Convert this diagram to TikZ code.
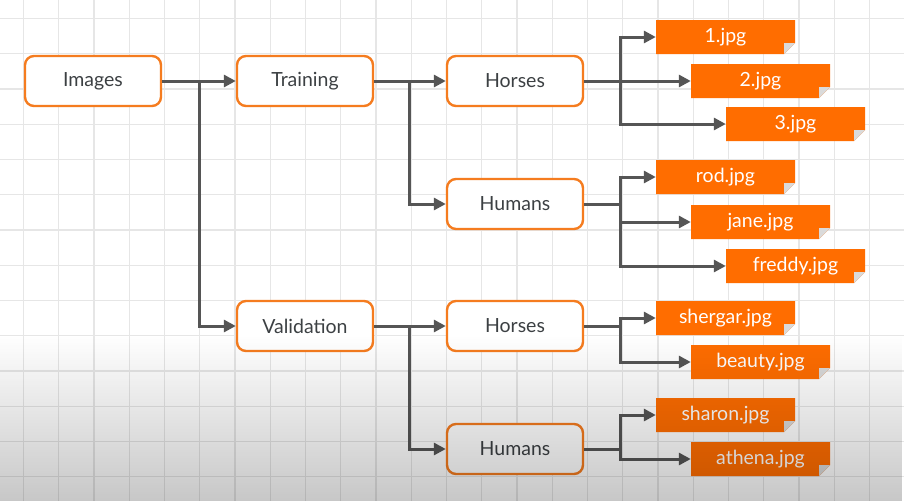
\documentclass[tikz,border=0pt]{standalone}
\usepackage{fontspec}
\setmainfont{Lato}
\usetikzlibrary{arrows.meta,fadings}

\definecolor{boxorange}{HTML}{F57C1F}
\definecolor{fileorange}{HTML}{FF6D00}
\definecolor{inkgray}{HTML}{3C4043}
\definecolor{linegray}{HTML}{555555}
\definecolor{gridgray}{HTML}{E6E6E6}
\definecolor{foldgray}{HTML}{DADADA}

\tikzfading[name=fade down, top color=transparent!100, bottom color=transparent!0]

\tikzset{
  folder/.style={draw=boxorange, line width=2.4pt, fill=white, rounded corners=9pt,
    minimum width=136pt, minimum height=50pt, text=inkgray,
    font=\fontsize{19.5}{23}\selectfont},
  jpg/.style={minimum width=139pt, minimum height=34pt, inner sep=0pt, text=white,
    font=\fontsize{19.5}{23}\selectfont,
    path picture={
      \fill[fileorange] (path picture bounding box.north west)
        -- (path picture bounding box.north east)
        -- ([yshift=11pt]path picture bounding box.south east)
        -- ([xshift=-11pt]path picture bounding box.south east)
        -- (path picture bounding box.south west) -- cycle;
      \fill[foldgray] ([xshift=-11pt]path picture bounding box.south east)
        -- ([xshift=-11pt,yshift=11pt]path picture bounding box.south east)
        -- ([yshift=11pt]path picture bounding box.south east) -- cycle;
    }},
  trunk/.style={draw=linegray, line width=3pt},
  link/.style={trunk, -{Triangle[length=12pt,width=12pt]}},
  gridline/.style={draw=gridgray, line width=1.1pt}
}

\begin{document}
\begin{tikzpicture}[x=1pt, y=-1pt]
\useasboundingbox (0,0) rectangle (904,501);
\fill[white] (0,0) rectangle (904,501);

% background grid
\foreach \gx in {0,...,25}
  \draw[gridline] ({23.5+35.25*\gx},0) -- ({23.5+35.25*\gx},501);
\foreach \gy in {0,...,13}
  \draw[gridline] (0,{18.5+35.25*\gy}) -- (904,{18.5+35.25*\gy});

% folders
\node[folder] (images) at (93,81) {Images};
\node[folder] (training) at (305,81) {Training};
\node[folder] (validation) at (305,326) {Validation};
\node[folder] (horsesA) at (515,81) {Horses};
\node[folder] (humansA) at (515,204) {Humans};
\node[folder] (horsesB) at (515,326) {Horses};
\node[folder] (humansB) at (515,449) {Humans};

% files
\node[jpg] (file1) at (725.5,37) {1.jpg};
\node[jpg] (file2) at (760.5,81) {2.jpg};
\node[jpg] (file3) at (795.5,124) {3.jpg};
\node[jpg] (rod) at (725.5,177) {rod.jpg};
\node[jpg] (jane) at (760.5,222) {jane.jpg};
\node[jpg] (freddy) at (795.5,266) {freddy.jpg};
\node[jpg] (shergar) at (725.5,318) {shergar.jpg};
\node[jpg] (beauty) at (760.5,362) {beauty.jpg};
\node[jpg] (sharon) at (725.5,415) {sharon.jpg};
\node[jpg] (athena) at (760.5,459) {athena.jpg};

% split points
\coordinate (splitImages) at (199,81);
\coordinate (splitTraining) at (409,81);
\coordinate (splitValidation) at (409,326);
\coordinate (splitHorsesA) at (620,81);
\coordinate (splitHumansA) at (620,204);
\coordinate (splitHorsesB) at (620,326);
\coordinate (splitHumansB) at (620,449);

% connectors
\draw[link] (images) -- (training);
\draw[link] (splitImages) |- (validation);
\draw[link] (training) -- (horsesA);
\draw[link] (splitTraining) |- (humansA);
\draw[link] (validation) -- (horsesB);
\draw[link] (splitValidation) |- (humansB);

\draw[link] (horsesA) -- (file2);
\draw[link] (splitHorsesA) |- (file1);
\draw[link] (splitHorsesA) |- (file3);

\draw[trunk] (humansA) -- (splitHumansA);
\draw[link] (splitHumansA) |- (rod);
\draw[link] (splitHumansA) |- (jane);
\draw[link] (splitHumansA) |- (freddy);

\draw[trunk] (horsesB) -- (splitHorsesB);
\draw[link] (splitHorsesB) |- (shergar);
\draw[link] (splitHorsesB) |- (beauty);

\draw[trunk] (humansB) -- (splitHumansB);
\draw[link] (splitHumansB) |- (sharon);
\draw[link] (splitHumansB) |- (athena);

% darker bottom
\fill[black, fill opacity=0.22, path fading=fade down] (0,335) rectangle (904,501);
\end{tikzpicture}
\end{document}
